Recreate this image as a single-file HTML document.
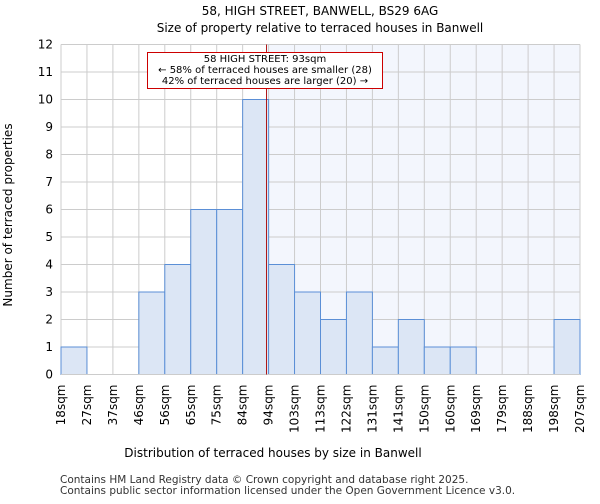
<!DOCTYPE html>
<html><head><meta charset="utf-8"><style>
body{margin:0;background:#fff;font-family:"DejaVu Sans","Liberation Sans",sans-serif}
</style></head><body>
<svg id="c" width="600" height="500" font-family="DejaVu Sans, Liberation Sans, sans-serif">
<text x="320" y="15" text-anchor="middle" font-size="12">58, HIGH STREET, BANWELL, BS29 6AG</text>
<text x="320" y="32" text-anchor="middle" font-size="12">Size of property relative to terraced houses in Banwell</text>
<g id="g"></g>
<text x="273" y="457" text-anchor="middle" font-size="12">Distribution of terraced houses by size in Banwell</text>
<text transform="translate(12,215) rotate(-90)" text-anchor="middle" font-size="12">Number of terraced properties</text>
<text x="60" y="483" font-size="10.5" fill="#333">Contains HM Land Registry data © Crown copyright and database right 2025.</text>
<text x="60" y="494" font-size="10.5" fill="#333">Contains public sector information licensed under the Open Government Licence v3.0.</text>
</svg>
<script>
const labels=["18sqm","27sqm","37sqm","46sqm","56sqm","65sqm","75sqm","84sqm","94sqm","103sqm","113sqm","122sqm","131sqm","141sqm","150sqm","160sqm","169sqm","179sqm","188sqm","198sqm","207sqm"];
const counts=[1,0,0,3,4,6,6,10,4,3,2,3,1,2,1,1,0,0,0,2];
const yTicks=[0,1,2,3,4,5,6,7,8,9,10,11,12];
const markerIndex=7.92;
const NS="http://www.w3.org/2000/svg";
const g=document.getElementById('g');
const X0=61,X1=580,Y0=374.5,Y1=44.5,yMax=12;
const bw=(X1-X0)/counts.length;
const x=i=>X0+i*bw, y=v=>Y0-(v/yMax)*(Y0-Y1);
function el(t,a){const e=document.createElementNS(NS,t);for(const k in a)e.setAttribute(k,a[k]);g.appendChild(e);return e;}
const mx=x(markerIndex);
let e=el('rect',{x:mx,y:Y1,width:X1-mx,height:Y0-Y1,fill:'#f3f6fd'});


yTicks.forEach(t=>{
 let l=el('line',{x1:X0,x2:X1,y1:y(t),y2:y(t),stroke:'#ccc','stroke-width':1});
 
 
 let tx=el('text',{x:X0-8,y:y(t)+4,'text-anchor':'end','font-size':12});
 tx.textContent=t;
 
 
});
labels.forEach((lb,i)=>{
 let l=el('line',{x1:x(i),x2:x(i),y1:Y1,y2:Y0,stroke:'#ccc','stroke-width':1});
 
 
 let tx=el('text',{transform:`translate(${x(i)+4},${Y0+10}) rotate(-90)`,'text-anchor':'end','font-size':12});
 tx.textContent=lb;
 
 
});
counts.forEach((v,i)=>{
 if(v<=0)return;
 let r=el('rect',{x:x(i),y:y(v),width:bw,height:Y0-y(v),fill:'#dce6f5',stroke:'#5b8fd6','stroke-width':1});
 
 
});
let ax=el('line',{x1:X0,x2:X1,y1:Y0,y2:Y0,stroke:'#ccc','stroke-width':1});


let m=el('line',{x1:mx,x2:mx,y1:Y1,y2:Y0,stroke:'#a00','stroke-width':0.9});


let box=el('rect',{x:147.5,y:52.5,width:235,height:36,fill:'#fff',stroke:'#c00','stroke-width':1});


["58 HIGH STREET: 93sqm","← 58% of terraced houses are smaller (28)","42% of terraced houses are larger (20) →"].forEach((s,i)=>{
 let t=el('text',{x:265,y:62+i*11,'text-anchor':'middle','font-size':10});
 t.textContent=s;
 
 
});
</script>
</body></html>
